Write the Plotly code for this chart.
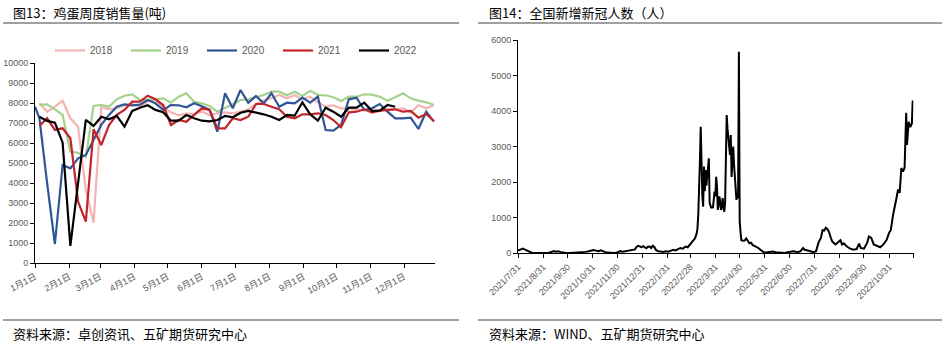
import plotly.graph_objects as go

# ---------------- 鸡蛋周度销售量（吨），按周 ----------------
years = ["2018", "2019", "2020", "2021", "2022"]
year_colors = ["#F4B3B3", "#A8D08D", "#2F5597", "#C0252B", "#000000"]

sales_2018 = [8000, 7580, 7830, 8130, 7250, 6830, 3665, 2030, 7830, 7700,
              7750, 7900, 7950, 7850, 8100, 8200, 7800, 7550, 7400, 7500,
              7450, 7600, 7400, 7500, 7550, 7500, 7580, 7700, 7950, 8150,
              8250, 8420, 8250, 8400, 8200, 8330, 8050, 7830, 7900, 7750,
              7750, 7700, 7650, 7700, 7650, 7700, 7700, 7750, 7550, 7900,
              7750, 7900]
sales_2019 = [7920, 7950, 7700, 7420, 5580, 5530, 5330, 7870, 7920, 7830,
              8200, 8380, 8450, 8170, 8170, 8200, 8250, 8030, 8330, 8500,
              8080, 8000, 7870, 7580, 7750, 7950, 8165, 8200, 8300, 8415,
              8580, 8580, 8400, 8580, 8365, 8630, 8415, 8400, 8300, 8115,
              8330, 8330, 8450, 8430, 8330, 8130, 8300, 8500, 8250, 8130,
              8050, 7915]
sales_2020 = [7830,
              7250, 4000, 965, 4915, 4750, 5250, 5415, 6170, 6920, 7420,
              7830, 7950, 7900, 7930, 8165, 8000, 7670, 7915, 7900, 7800,
              8000, 7850, 7670, 6580, 8500, 7750, 8665, 8030, 8365, 8000,
              8500, 7830, 8030, 8000, 8280, 8030, 8330, 6665, 6630, 6915,
              8200, 8280, 7665, 7750, 7965, 7580, 7250, 7250, 7280, 6715,
              7580, 7080]
sales_2021 = [6870, 7250, 6670, 6750, 6250, 3080, 2080, 6700, 5915, 6915,
              7420, 7670, 8080, 8080, 8380, 8200, 7915, 6915, 7165, 7080,
              7420, 7750, 7670, 6750, 6750, 7250, 7165, 7330, 7965, 7965,
              7830, 7700, 7330, 7250, 7450, 7450, 7500, 7415, 7165, 6800,
              7550, 7580, 7700, 7530, 7630, 7665, 7700, 7580, 7615, 7280,
              7465, 7115]
sales_2022 = [7330, 7120, 7030, 6030, 870, 4000, 7170, 6870, 7330, 7200,
              7370, 6830, 7620, 7780, 7900, 7670, 7550, 7130, 7130, 7415,
              7250, 7130, 7100, 7165, 7365, 7300, 7530, 7615, 7550, 7450,
              7330, 7165, 7415, 7380, 8050, 7450, 7130, 7780, 7580, 7330,
              7780, 7780, 8030, 7615, 7630, 7915, 7830]

month_days = [0, 31, 59, 90, 120, 151, 181, 212, 243, 273, 304, 334]
month_labels = ["1月1日", "2月1日", "3月1日", "4月1日", "5月1日", "6月1日",
                "7月1日", "8月1日", "9月1日", "10月1日", "11月1日", "12月1日"]

# ---------------- 全国新增新冠人数（人），按日 ----------------
covid_dates = [
    "2021-07-31", "2021-08-02", "2021-08-04", "2021-08-06", "2021-08-08", "2021-08-10",
    "2021-08-12", "2021-08-14", "2021-08-17", "2021-08-21", "2021-08-25", "2021-08-29",
    "2021-09-02", "2021-09-06", "2021-09-10", "2021-09-13", "2021-09-15", "2021-09-18",
    "2021-09-21", "2021-09-24", "2021-09-28", "2021-10-03", "2021-10-08", "2021-10-13",
    "2021-10-18", "2021-10-22", "2021-10-26", "2021-10-29", "2021-11-01", "2021-11-04",
    "2021-11-07", "2021-11-10", "2021-11-13", "2021-11-17", "2021-11-22", "2021-11-27",
    "2021-12-01", "2021-12-04", "2021-12-07", "2021-12-10", "2021-12-13", "2021-12-16",
    "2021-12-19", "2021-12-22", "2021-12-24", "2021-12-26", "2021-12-28", "2021-12-30",
    "2022-01-01", "2022-01-03", "2022-01-05", "2022-01-07", "2022-01-09", "2022-01-11",
    "2022-01-13", "2022-01-15", "2022-01-17", "2022-01-20", "2022-01-23", "2022-01-26",
    "2022-01-29", "2022-02-01", "2022-02-04", "2022-02-07", "2022-02-10", "2022-02-13",
    "2022-02-16", "2022-02-19", "2022-02-22", "2022-02-25", "2022-02-28", "2022-03-02",
    "2022-03-04", "2022-03-06", "2022-03-08", "2022-03-09", "2022-03-10", "2022-03-11",
    "2022-03-12", "2022-03-13", "2022-03-14", "2022-03-15", "2022-03-16", "2022-03-17",
    "2022-03-18", "2022-03-19", "2022-03-20", "2022-03-21", "2022-03-22", "2022-03-23",
    "2022-03-24", "2022-03-25", "2022-03-26", "2022-03-27", "2022-03-28", "2022-03-29",
    "2022-03-30", "2022-03-31", "2022-04-01", "2022-04-02", "2022-04-03", "2022-04-04",
    "2022-04-05", "2022-04-06", "2022-04-07", "2022-04-08", "2022-04-09", "2022-04-10",
    "2022-04-11", "2022-04-12", "2022-04-13", "2022-04-14", "2022-04-15", "2022-04-16",
    "2022-04-17", "2022-04-18", "2022-04-19", "2022-04-20", "2022-04-21", "2022-04-22",
    "2022-04-23", "2022-04-24", "2022-04-25", "2022-04-26", "2022-04-27", "2022-04-28",
    "2022-04-29", "2022-04-30", "2022-05-01", "2022-05-02", "2022-05-04", "2022-05-06",
    "2022-05-08", "2022-05-10", "2022-05-12", "2022-05-14", "2022-05-16", "2022-05-18",
    "2022-05-20", "2022-05-23", "2022-05-26", "2022-05-29", "2022-06-01", "2022-06-04",
    "2022-06-07", "2022-06-10", "2022-06-13", "2022-06-16", "2022-06-20", "2022-06-24",
    "2022-06-28", "2022-07-02", "2022-07-05", "2022-07-08", "2022-07-11", "2022-07-14",
    "2022-07-17", "2022-07-19", "2022-07-21", "2022-07-24", "2022-07-27", "2022-07-30",
    "2022-08-02", "2022-08-05", "2022-08-08", "2022-08-10", "2022-08-12", "2022-08-14",
    "2022-08-16", "2022-08-18", "2022-08-20", "2022-08-22", "2022-08-26", "2022-08-29",
    "2022-09-01", "2022-09-03", "2022-09-05", "2022-09-09", "2022-09-13", "2022-09-17",
    "2022-09-21", "2022-09-24", "2022-09-26", "2022-09-30", "2022-10-02", "2022-10-04",
    "2022-10-06", "2022-10-09", "2022-10-12", "2022-10-16", "2022-10-20", "2022-10-24",
    "2022-10-28", "2022-10-31", "2022-11-02", "2022-11-05", "2022-11-07", "2022-11-09",
    "2022-11-11", "2022-11-13", "2022-11-15", "2022-11-17", "2022-11-19", "2022-11-21",
    "2022-11-22", "2022-11-24", "2022-11-26", "2022-11-28", "2022-11-29",
]
covid_cases = [
    80, 100, 120, 130, 110, 90,
    60, 30, 15, 10, 5, 8,
    5, 10, 35, 60, 45, 55,
    40, 20, 10, 8, 15, 10,
    25, 40, 55, 70, 90, 75,
    60, 85, 50, 20, 15, 10,
    30, 60, 45, 55, 80, 70,
    95, 110, 180, 210, 195, 170,
    200, 160, 140, 185, 190, 150,
    210, 170, 90, 60, 50, 40,
    55, 45, 70, 100, 80, 110,
    150, 130, 190, 170, 260, 300,
    350, 420, 560, 700, 1100, 1700,
    2600, 3560, 2200, 1600, 1310, 2440,
    1750, 2340, 1900, 2200, 2350, 2670,
    1410, 1300, 1270, 1320, 1270, 1500,
    1735, 1600, 2150, 1900, 1220, 1350,
    1600, 1450, 1220, 1300, 1550, 1300,
    1170, 1400, 2500, 3890, 3500, 3300,
    3000, 2770, 3330, 2150, 2600, 3000,
    2500, 2060, 1800, 1500, 1690, 1550,
    5670, 890, 600, 370, 355, 360,
    420, 330, 280, 300, 230, 210,
    190, 150, 90, 40, 20, 30,
    20, 50, 30, 20, 15, 10,
    30, 40, 60, 45, 40, 60,
    150, 100, 80, 70, 50, 30,
    60, 300, 430, 650, 640, 720,
    680, 600, 450, 330, 250, 300,
    370, 250, 280, 190, 130, 100,
    120, 270, 150, 130, 200, 300,
    470, 430, 250, 220, 170, 250,
    380, 580, 650, 1100, 1300, 1550,
    1800, 1700, 2400, 2300, 2400, 3950,
    3050, 3700, 3550, 3650, 4300,
]

covid_tick_dates = ["2021-07-31", "2021-08-31", "2021-09-30", "2021-10-31", "2021-11-30",
                    "2021-12-31", "2022-01-31", "2022-02-28", "2022-03-31", "2022-04-30",
                    "2022-05-31", "2022-06-30", "2022-07-31", "2022-08-31", "2022-09-30",
                    "2022-10-31", "2022-11-30"]
covid_tick_text = ["2021/7/31", "2021/8/31", "2021/9/30", "2021/10/31", "2021/11/30",
                   "2021/12/31", "2022/1/31", "2022/2/28", "2022/3/31", "2022/4/30",
                   "2022/5/31", "2022/6/30", "2022/7/31", "2022/8/31", "2022/9/30",
                   "2022/10/31", ""]

W, H = 942, 347
FONT = "Liberation Sans, Noto Sans CJK SC, sans-serif"
CJK = "Noto Sans CJK SC, sans-serif"
GREY = "#595959"


def px_x(p):
    return p / W


def px_y(p):
    return 1 - p / H


def week_days(n, lead=False):
    # weekly points, first week ending on day 4 of the year
    days = [4 + 7 * i for i in range(n)]
    return ([0] + days) if lead else days


fig = go.Figure()

all_sales = [sales_2018, sales_2019, sales_2020, sales_2021, sales_2022]
for name, color, vals in zip(years, year_colors, all_sales):
    lead = len(vals) == 53
    fig.add_trace(go.Scatter(
        x=week_days(len(vals) - (1 if lead else 0), lead), y=vals, name=name,
        mode="lines", line=dict(color=color, width=2.2),
        xaxis="x", yaxis="y", showlegend=True,
    ))

fig.add_trace(go.Scatter(
    x=covid_dates, y=covid_cases, mode="lines", name="新增新冠人数",
    line=dict(color="#000000", width=2), xaxis="x2", yaxis="y2", showlegend=False,
))

axis_common = dict(showgrid=False, zeroline=False, showline=True, linecolor="#000000",
                   linewidth=1, ticks="outside", ticklen=4, tickcolor="#000000",
                   automargin=False,
                   tickfont=dict(family=FONT, size=9, color=GREY))

fig.update_layout(
    width=W, height=H, margin=dict(l=0, r=0, t=0, b=0, autoexpand=False),
    paper_bgcolor="white", plot_bgcolor="white",
    xaxis=dict(domain=[px_x(35), px_x(435)], range=[0, 362], tickmode="array",
               tickvals=month_days, ticktext=month_labels, tickangle=-28,
               anchor="y", **axis_common),
    yaxis=dict(domain=[px_y(263.3), px_y(63.3)], range=[0, 10000], dtick=1000,
               tickformat="d", anchor="x", **axis_common),
    xaxis2=dict(domain=[px_x(518), px_x(913.5)], type="date",
                range=["2021-07-31", "2022-11-30"], tickmode="array",
                tickvals=covid_tick_dates, ticktext=covid_tick_text, tickangle=-45,
                anchor="y2", **axis_common),
    yaxis2=dict(domain=[px_y(253.3), px_y(40)], range=[0, 6000], dtick=1000,
                tickformat="d", anchor="x2", **axis_common),
    legend=dict(orientation="h", x=px_x(50), y=px_y(36), xanchor="left", yanchor="top",
                entrywidth=31, entrywidthmode="pixels", itemwidth=30,
                font=dict(family=FONT, size=10, color=GREY), bgcolor="rgba(0,0,0,0)"),
    showlegend=True,
)

# 标题与资料来源
texts = [
    ("图13：鸡蛋周度销售量(吨)", 11, 13),
    ("图14：全国新增新冠人数（人）", 487, 13),
    ("资料来源：卓创资讯、五矿期货研究中心", 11, 333),
    ("资料来源：WIND、五矿期货研究中心", 487, 333),
]
for txt, x, y in texts:
    fig.add_annotation(text=txt, xref="paper", yref="paper", x=px_x(x), y=px_y(y),
                       xanchor="left", yanchor="middle", showarrow=False,
                       font=dict(family=CJK, size=13, color="#000000"))

# 分隔线
rules = [(3, 459, 23), (478, 942, 23), (3, 459, 320), (478, 942, 320)]
for x0, x1, y in rules:
    fig.add_shape(type="line", xref="paper", yref="paper",
                  x0=px_x(x0), x1=px_x(x1), y0=px_y(y), y1=px_y(y),
                  line=dict(color="#808080", width=1.5))

fig.write_html("out.html")
